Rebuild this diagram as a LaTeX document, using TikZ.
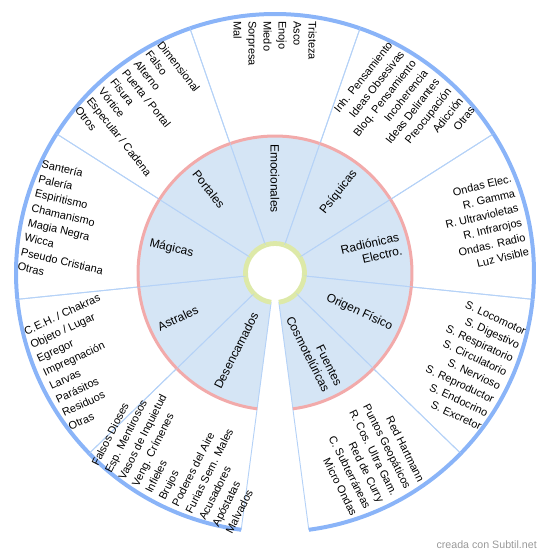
\documentclass[tikz,border=0pt]{standalone}
\usepackage{fontspec}
\setmainfont{Liberation Sans}
\definecolor{ringblue}{HTML}{8AB4F8}
\definecolor{lineblue}{HTML}{B5D2F7}
\definecolor{sectorfill}{HTML}{D5E5F5}
\definecolor{rimpink}{HTML}{F2AAAA}
\definecolor{hubgreen}{HTML}{DDE9A8}
\definecolor{creditgray}{HTML}{999999}
\begin{document}
\begin{tikzpicture}[
    x=0.75pt, y=0.75pt,
    sectorstyle/.style={fill=sectorfill, draw=lineblue, line width=0.7pt},
    dividerstyle/.style={draw=lineblue, line width=0.7pt},
    rimstyle/.style={draw=rimpink, line width=2.25pt},
    hubstyle/.style={draw=hubgreen, line width=3.6pt},
    outerstyle/.style={draw=ringblue, line width=3pt},
    catright/.style={anchor=east, align=right, inner sep=0pt, font=\fontsize{9}{10.5}\selectfont},
    catleft/.style={anchor=west, align=left, inner sep=0pt, font=\fontsize{9}{10.5}\selectfont},
    listright/.style={anchor=east, align=right, inner sep=0pt, font=\fontsize{8.25}{11.25}\selectfont},
    listleft/.style={anchor=west, align=left, inner sep=0pt, font=\fontsize{8.25}{11.25}\selectfont}
]
    \useasboundingbox (-275,-283) rectangle (275,273);

    % sectors
    \foreach \m in {90, 51.667, 13.333, -25, -63.333, -116.667, -155, 166.667, 128.333} {
        \pgfmathsetmacro{\s}{\m-19.167}
        \pgfmathsetmacro{\e}{\m+19.167}
        \path[sectorstyle] (\s:30) -- (\s:137) arc[start angle=\s, end angle=\e, radius=137] -- (\e:30) arc[start angle=\e, end angle=\s, radius=30] -- cycle;
        \draw[dividerstyle] (\s:137) -- (\s:259) (\e:137) -- (\e:259);
        \draw[rimstyle] (\s:137) arc[start angle=\s, end angle=\e, radius=137];
        \draw[hubstyle] (\s:29.5) arc[start angle=\s, end angle=\e, radius=29.5];
        \draw[outerstyle] (\s:259) arc[start angle=\s, end angle=\e, radius=259];
    }

    % categories
    \node[catleft, rotate=-90] (emocionales) at (90:129) {Emocionales};
    \node[catright, rotate=51.667] (psiquicas) at (51.667:129) {Psíquicas};
    \node[catright, rotate=13.333] (radionicas) at (13.333:129) {Radiónicas\\Electro.};
    \node[catright, rotate=-25] (origen) at (-25:129) {Origen Físico};
    \node[catright, rotate=-63.333] (fuentes) at (-63.333:129) {Fuentes\\Cosmotelúricas};
    \node[catleft, rotate=63.333] (desencarnados) at (-116.667:129) {Desencarnados};
    \node[catleft, rotate=25] (astrales) at (-155:129) {Astrales};
    \node[catleft, rotate=-13.333] (magicas) at (166.667:129) {Mágicas};
    \node[catleft, rotate=-51.667] (portales) at (128.333:129) {Portales};

    % lists
    \node[listleft, rotate=-90] (emolist) at (90:252) {Tristeza\\Asco\\Enojo\\Miedo\\Sorpresa\\Mal};
    \node[listright, rotate=51.667] (psilist) at (51.667:252) {Inh. Pensamiento\\Ideas Obsesivas\\Bloq. Pensamiento\\Incoherencia\\Ideas Delirantes\\Preocupación\\Adicción\\Otras};
    \node[listright, rotate=13.333] (radlist) at (13.333:252) {Ondas Elec.\\R. Gamma\\R. Ultravioletas\\R. Infrarojos\\Ondas. Radio\\Luz Visible};
    \node[listright, rotate=-25] (origlist) at (-25:252) {S. Locomotor\\S. Digestivo\\S. Respiratorio\\S. Circulatorio\\S. Nervioso\\S. Reproductor\\S. Endocrino\\S. Excretor};
    \node[listright, rotate=-63.333] (fuelist) at (-63.333:252) {Red Hartmann\\Puntos Geopáticos\\R. Cos. Ultra Gam.\\Red de Curry\\C. Subterráneas\\Micro Ondas};
    \node[listleft, rotate=63.333] (deslist) at (-116.667:253) {Falsos Dioses\\Esp. Mentirosos\\Vasos de Inquietud\\Veng. Crímenes\\Infieles\\Brujos\\Poderes del Aire\\Furias Sem. Males\\Acusadores\\Apóstatas\\Malvados};
    \node[listleft, rotate=25] (astlist) at (-155:252) {C.E.H. / Chakras\\Objeto / Lugar\\Egregor\\Impregnación\\Larvas\\Parásitos\\Residuos\\Otras};
    \node[listleft, rotate=-13.333] (maglist) at (166.667:252) {Santería\\Palería\\Espiritismo\\Chamanismo\\Magia Negra\\Wicca\\Pseudo Cristiana\\Otras};
    \node[listleft, rotate=-51.667] (porlist) at (128.333:252) {Dimensional\\Falso\\Alterno\\Puerta / Portal\\Fisura\\Vórtice\\Especular / Cadena\\Otros};

    \node[anchor=east, inner sep=0pt, text=creditgray, font=\fontsize{8}{9}\selectfont] (credit) at (262,-272) {creada con Subtil.net};
\end{tikzpicture}
\end{document}
